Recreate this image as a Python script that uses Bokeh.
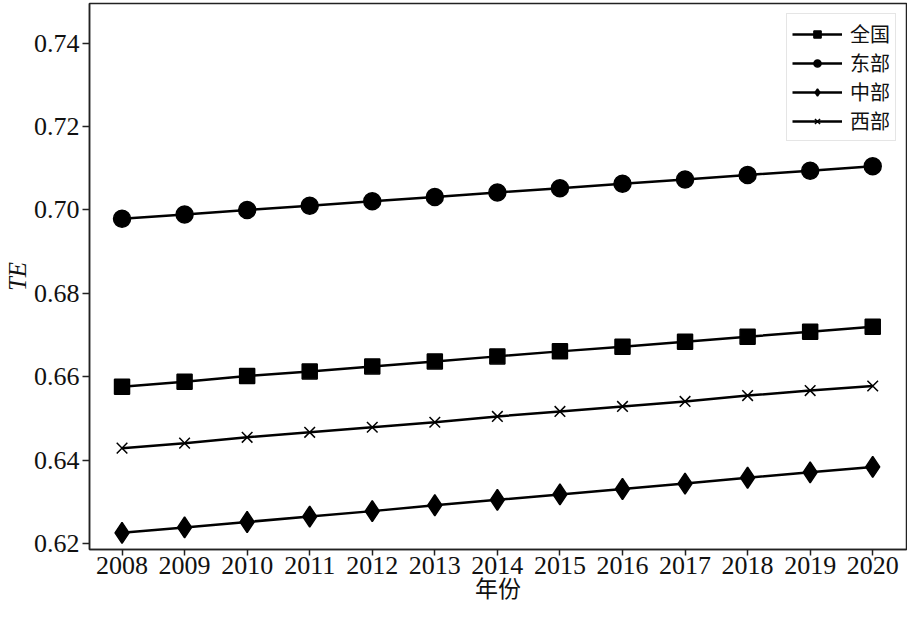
from bokeh.plotting import figure
from bokeh.models import Range1d, FixedTicker, Legend, LegendItem, CustomJSTickFormatter
from bokeh.embed import file_html
from bokeh.resources import INLINE

years = [2008, 2009, 2010, 2011, 2012, 2013, 2014, 2015, 2016, 2017, 2018, 2019, 2020]
national = [0.6576, 0.6588, 0.6602, 0.6613, 0.6625, 0.6637, 0.6649, 0.6661, 0.6672, 0.6684, 0.6696, 0.6708, 0.6720]
east = [0.6979, 0.6989, 0.7000, 0.7010, 0.7021, 0.7031, 0.7042, 0.7052, 0.7063, 0.7073, 0.7084, 0.7094, 0.7105]
central = [0.6226, 0.6239, 0.6252, 0.6265, 0.6278, 0.6292, 0.6305, 0.6318, 0.6331, 0.6344, 0.6358, 0.6371, 0.6384]
west = [0.6429, 0.6441, 0.6455, 0.6467, 0.6479, 0.6491, 0.6505, 0.6517, 0.6529, 0.6541, 0.6555, 0.6567, 0.6578]
names = ["全国", "东部", "中部", "西部"]
y_ticks = [0.62, 0.64, 0.66, 0.68, 0.70, 0.72, 0.74]
x_title = "年份"
y_title = "TE"

SERIF = "Liberation Serif"
CJK = "Noto Sans CJK SC"
CJK_MIX = "Liberation Serif, Noto Sans CJK SC"
INK = "#111111"

p = figure(width=907, height=604, output_backend="svg", toolbar_location=None,
           x_range=Range1d(2007.48, 2020.54), y_range=Range1d(0.6186, 0.7495),
           min_border_left=2, min_border_right=1, min_border_top=3, min_border_bottom=0)

p.xgrid.visible = False
p.ygrid.visible = False
p.outline_line_color = "#222222"
p.outline_line_width = 1.5

p.xaxis.ticker = FixedTicker(ticks=years)
p.yaxis.ticker = FixedTicker(ticks=y_ticks)
p.yaxis.formatter = CustomJSTickFormatter(code="return tick.toFixed(2);")

for ax in (p.xaxis, p.yaxis):
    ax.axis_line_color = "#222222"
    ax.axis_line_width = 1.5
    ax.major_tick_line_color = "#222222"
    ax.major_tick_line_width = 1.5
    ax.major_tick_out = 7
    ax.major_tick_in = 0
    ax.minor_tick_line_color = None
    ax.major_label_text_font = SERIF
    ax.major_label_text_color = INK
    ax.major_label_text_font_size = "26px"
    ax.axis_label_text_color = INK

p.xaxis.major_tick_out = 6
p.xaxis.major_label_standoff = 1
p.xaxis.axis_label = x_title
p.xaxis.axis_label_text_font = CJK_MIX
p.xaxis.axis_label_text_font_style = "normal"
p.xaxis.axis_label_text_font_size = "23px"
p.xaxis.axis_label_standoff = 0

p.yaxis.major_label_standoff = 3
p.yaxis.axis_label = y_title
p.yaxis.axis_label_text_font = SERIF
p.yaxis.axis_label_text_font_style = "italic"
p.yaxis.axis_label_text_font_size = "25px"
p.yaxis.axis_label_standoff = 0

items = []
series = [(national, "square", 15, names[0]),
          (east, "circle", 17, names[1]),
          (central, "diamond", 21, names[2]),
          (west, "x", 15, names[3])]
for vals, marker, size, name in series:
    l = p.line(years, vals, line_color="black", line_width=2.5)
    s = p.scatter(years, vals, marker=marker, size=size, fill_color="black",
                  line_color="black", line_width=1.5)
    items.append(LegendItem(label=name, renderers=[l, s]))

legend = Legend(items=items, location="top_right",
                label_text_font=CJK, label_text_font_size="20px",
                label_text_color=INK,
                border_line_color="#cccccc", border_line_width=1,
                background_fill_alpha=0.9,
                glyph_width=50, glyph_height=18, spacing=0, padding=5,
                margin=10, label_standoff=8)
p.add_layout(legend)

open("out.html", "w").write(file_html(p, INLINE))
